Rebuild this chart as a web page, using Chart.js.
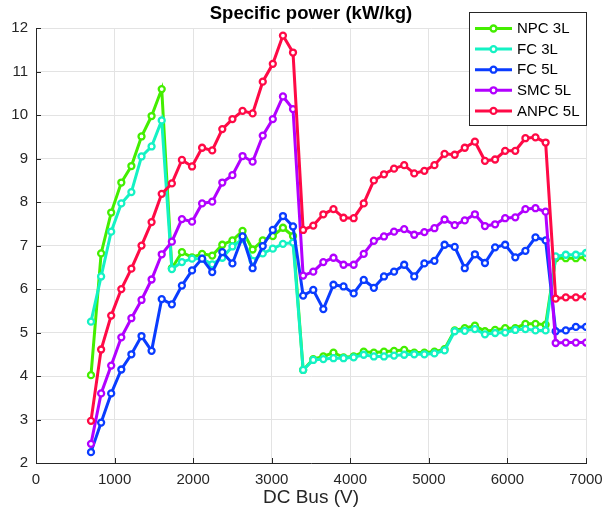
<!DOCTYPE html>
<html>
<head>
<meta charset="utf-8">
<script src="https://cdn.jsdelivr.net/npm/chart.js@4/dist/chart.umd.min.js"></script>
<style>
  html, body { margin: 0; padding: 0; background: #fff; }
  #wrap { width: 603px; height: 519px; position: relative; }
</style>
</head>
<body>
<div id="wrap"><canvas id="chart" width="603" height="519"></canvas></div>
<script>
// DC bus voltage (V), shared by all curves
var dcBus = [700, 829, 957, 1086, 1214, 1343, 1471, 1600, 1729, 1857,
  1986, 2114, 2243, 2371, 2500, 2629, 2757, 2886, 3014, 3143,
  3271, 3400, 3529, 3657, 3786, 3914, 4043, 4171, 4300, 4429,
  4557, 4686, 4814, 4943, 5071, 5200, 5329, 5457, 5586, 5714,
  5843, 5971, 6100, 6229, 6357, 6486, 6614, 6743, 6871, 7000];

// specific power (kW/kg)
var npc3L = [4.02, 6.82, 7.76, 8.45, 8.83, 9.51, 9.98, 10.60, 6.48, 6.85,
  6.73, 6.81, 6.77, 7.02, 7.12, 7.34, 6.91, 7.12, 7.22, 7.41,
  7.22, 4.14, 4.39, 4.45, 4.54, 4.43, 4.45, 4.56, 4.54, 4.56,
  4.58, 4.60, 4.54, 4.54, 4.56, 4.62, 5.05, 5.10, 5.16, 5.03,
  5.06, 5.10, 5.10, 5.20, 5.20, 5.18, 6.71, 6.71, 6.71, 6.73];
var fc3L = [5.25, 6.29, 7.32, 7.97, 8.23, 9.05, 9.28, 9.88, 6.46, 6.62,
  6.70, 6.70, 6.57, 6.72, 6.98, 7.15, 6.65, 6.82, 6.93, 7.04,
  7.07, 4.14, 4.37, 4.39, 4.41, 4.41, 4.43, 4.49, 4.45, 4.45,
  4.47, 4.49, 4.50, 4.50, 4.52, 4.59, 5.03, 5.04, 5.08, 4.96,
  4.99, 5.00, 5.06, 5.08, 5.05, 5.05, 6.75, 6.79, 6.79, 6.83];
var fc5L = [2.25, 2.93, 3.60, 4.15, 4.50, 4.92, 4.58, 5.77, 5.65, 6.08,
  6.43, 6.70, 6.39, 6.85, 6.59, 7.21, 6.48, 6.99, 7.36, 7.68,
  7.44, 5.85, 5.98, 5.54, 6.10, 6.06, 5.90, 6.21, 6.03, 6.29,
  6.40, 6.56, 6.29, 6.59, 6.65, 7.02, 6.97, 6.48, 6.80, 6.60,
  6.96, 7.02, 6.73, 6.88, 7.19, 7.12, 5.03, 5.05, 5.13, 5.13];
var smc5L = [2.44, 3.60, 4.24, 4.89, 5.33, 5.75, 6.22, 6.80, 7.09, 7.61,
  7.55, 7.97, 8.01, 8.45, 8.62, 9.06, 8.93, 9.53, 9.91, 10.43,
  10.14, 6.31, 6.40, 6.62, 6.72, 6.56, 6.56, 6.81, 7.11, 7.21,
  7.32, 7.38, 7.25, 7.31, 7.40, 7.60, 7.47, 7.58, 7.72, 7.45,
  7.49, 7.63, 7.65, 7.84, 7.86, 7.78, 4.76, 4.77, 4.77, 4.77];
var anpc5L = [2.97, 4.61, 5.39, 6.00, 6.47, 7.00, 7.54, 8.19, 8.43, 8.97,
  8.82, 9.25, 9.19, 9.68, 9.91, 10.10, 10.04, 10.77, 11.18, 11.83,
  11.44, 7.36, 7.46, 7.72, 7.84, 7.64, 7.63, 7.97, 8.50, 8.64,
  8.77, 8.85, 8.66, 8.72, 8.85, 9.11, 9.09, 9.25, 9.39, 8.95,
  8.98, 9.18, 9.18, 9.47, 9.49, 9.37, 5.78, 5.81, 5.81, 5.83];

var seriesNames = ['NPC 3L', 'FC 3L', 'FC 5L', 'SMC 5L', 'ANPC 5L'];
var seriesValues = [npc3L, fc3L, fc5L, smc5L, anpc5L];
var seriesColors = ['#44ee00', '#14f2c4', '#0a3cff', '#b200ff', '#ff0a46'];

var xTicks = [0, 1000, 2000, 3000, 4000, 5000, 6000, 7000];
var yTicks = [2, 3, 4, 5, 6, 7, 8, 9, 10, 11, 12];

var FONT = 'Liberation Sans, Arial, Helvetica, sans-serif';
var AXIS_COLOR = '#262626';

var datasets = seriesNames.map(function(name, i) {
  return {
    label: name,
    data: dcBus.map(function(v, k) { return { x: v, y: seriesValues[i][k] }; }),
    borderColor: seriesColors[i],
    backgroundColor: seriesColors[i],
    borderWidth: 3,
    pointRadius: 3,
    pointBorderWidth: 2.3,
    pointBackgroundColor: '#ffffff',
    pointBorderColor: seriesColors[i],
    tension: 0,
    order: seriesNames.length - i
  };
});

// inward tick marks like the original axes
var innerTicks = {
  id: 'innerTicks',
  afterDraw: function(chart) {
    var ctx = chart.ctx, a = chart.chartArea;
    var xs = chart.scales.x, ys = chart.scales.y;
    ctx.save();
    ctx.strokeStyle = AXIS_COLOR;
    ctx.lineWidth = 1;
    ctx.beginPath();
    xTicks.forEach(function(t) {
      var px = Math.round(xs.getPixelForValue(t)) + 0.5;
      ctx.moveTo(px, a.bottom);
      ctx.lineTo(px, a.bottom - 5);
    });
    yTicks.forEach(function(t) {
      var py = Math.round(ys.getPixelForValue(t)) + 0.5;
      ctx.moveTo(a.left, py);
      ctx.lineTo(a.left + 5, py);
    });
    ctx.stroke();
    ctx.restore();
  }
};

// boxed legend in the upper right corner
var boxLegend = {
  id: 'boxLegend',
  afterDraw: function(chart) {
    var ctx = chart.ctx;
    var left = 469, top = 12, w = 117, h = 113;
    ctx.save();
    ctx.fillStyle = '#ffffff';
    ctx.fillRect(left, top, w, h);
    ctx.strokeStyle = AXIS_COLOR;
    ctx.lineWidth = 1;
    ctx.strokeRect(left + 0.5, top + 0.5, w, h);
    ctx.font = '15px ' + FONT;
    ctx.textBaseline = 'middle';
    chart.data.datasets.forEach(function(ds, i) {
      var y = 28.5 + i * 20.6;
      ctx.strokeStyle = ds.borderColor;
      ctx.lineWidth = 3;
      ctx.beginPath();
      ctx.moveTo(475, y);
      ctx.lineTo(512, y);
      ctx.stroke();
      ctx.lineWidth = 2.3;
      ctx.fillStyle = '#ffffff';
      ctx.beginPath();
      ctx.arc(493.5, y, 3, 0, Math.PI * 2);
      ctx.fill();
      ctx.stroke();
      ctx.fillStyle = '#000000';
      ctx.fillText(ds.label, 517, y + 0.5);
    });
    ctx.restore();
  }
};

var ctx = document.getElementById('chart').getContext('2d');
var myChart = new Chart(ctx, {
  type: 'line',
  data: { datasets: datasets },
  options: {
    responsive: false,
    animation: false,
    layout: { padding: { left: 0, right: 17, top: 0, bottom: 0 } },
    plugins: {
      legend: { display: false },
      tooltip: { enabled: false },
      title: {
        display: true,
        fullSize: false,
        text: 'Specific power (kW/kg)',
        color: '#000000',
        font: { family: FONT, size: 18.5, weight: 'bold' },
        padding: { top: 3, bottom: 3 }
      }
    },
    scales: {
      x: {
        type: 'linear',
        min: 0,
        max: 7000,
        afterBuildTicks: function(s) { s.ticks = xTicks.map(function(v) { return { value: v }; }); },
        afterFit: function(s) { s.height = 56; s.paddingLeft = 0; s.paddingRight = 0; },
        grid: { color: '#e3e3e3', drawTicks: false },
        border: { color: AXIS_COLOR, width: 1 },
        ticks: {
          color: AXIS_COLOR, padding: 8, maxRotation: 0,
          font: { family: FONT, size: 15 },
          callback: function(v) { return String(v); }
        },
        title: {
          display: true,
          text: 'DC Bus (V)',
          color: AXIS_COLOR,
          font: { family: FONT, size: 19 },
          padding: { top: 0, bottom: 10 }
        }
      },
      y: {
        type: 'linear',
        min: 2,
        max: 12,
        afterBuildTicks: function(s) { s.ticks = yTicks.map(function(v) { return { value: v }; }); },
        afterFit: function(s) { s.width = 36; s.paddingTop = 0; s.paddingBottom = 0; },
        grid: { color: '#e3e3e3', drawTicks: false },
        border: { color: AXIS_COLOR, width: 1 },
        ticks: { color: AXIS_COLOR, padding: 8, font: { family: FONT, size: 15 } }
      }
    }
  },
  plugins: [innerTicks, boxLegend]
});
</script>
</body>
</html>
